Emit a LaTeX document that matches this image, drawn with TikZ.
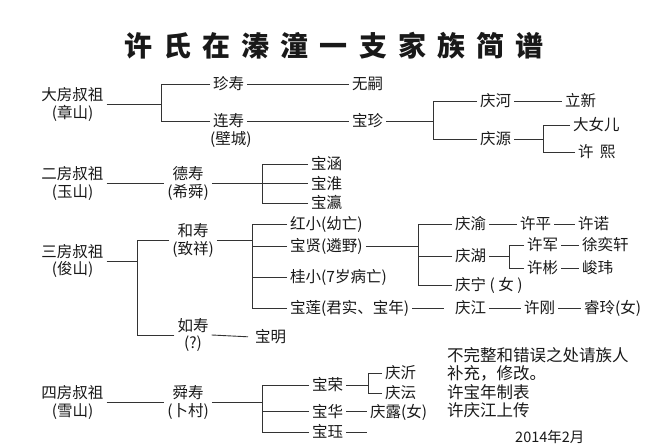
\documentclass[tikz,border=0pt]{standalone}
\usepackage{fontspec}
\setmainfont{Noto Sans CJK SC}
\begin{document}
\begin{tikzpicture}[x=1pt,y=-1pt,
  every node/.style={inner xsep=3pt, inner ysep=0pt, font=\fontsize{15.5}{17.5}\selectfont, text=black!90},
  one/.style={anchor=west, xshift=-3pt, text height=13.5pt, text depth=1.7pt},
  two/.style={align=center},
  note/.style={anchor=west, xshift=-3pt, font=\fontsize{16.5}{18}\selectfont, text height=14.3pt, text depth=1.8pt},
  link/.style={draw=black!80, line width=0.9pt}]
\useasboundingbox[fill=white] (0,0) rectangle (651,446);
% title
\node[font=\fontsize{28}{30}\selectfont\bfseries\addfontfeature{LetterSpace=40}] (title) at (334,46) {许氏在溱潼一支家族简谱};
% generation 0
\node[two] (g1) at (72.5,104.5) {大房叔祖\\(章山)};
\node[two] (g2) at (72.5,183.5) {二房叔祖\\(玉山)};
\node[two] (g3) at (72.5,261) {三房叔祖\\(俊山)};
\node[two] (g4) at (72.5,402.5) {四房叔祖\\(雪山)};
% generation 1
\node[one] (zs) at (213,84) {珍寿};
\node[one] (ls) at (213,121) {连寿};
\node[one] (lsb) at (210,139) {(壁城)};
\node[two] (ds) at (188,183.5) {德寿\\(希舜)};
\node[two] (hs) at (193,240.5) {和寿\\(致祥)};
\node[two] (rs) at (193,335) {如寿\\(?)};
\node[two] (ss) at (188,402.5) {舜寿\\(卜村)};
% generation 2
\node[one] (wusi) at (352,84) {无嗣};
\node[one] (bz) at (352,121) {宝珍};
\node[one] (bh1) at (311,164) {宝涵};
\node[one] (bh2) at (311,183.5) {宝淮};
\node[one] (bh3) at (311,203) {宝瀛};
\node[one] (hx) at (290,224) {红小(幼亡)};
\node[one] (bx) at (290,246) {宝贤(遴野)};
\node[one] (gx) at (290,277) {桂小(7岁病亡)};
\node[one] (bl) at (290,308) {宝莲(君实、宝年)};
\node[one] (bm) at (255,337) {宝明};
\node[one] (br) at (312,385) {宝荣};
\node[one] (bhu) at (312,411.5) {宝华};
\node[one] (bj) at (312,432) {宝珏};
% generation 3
\node[one] (qh) at (480,101) {庆河};
\node[one] (qy) at (480,139) {庆源};
\node[one] (qyu) at (455,224) {庆渝};
\node[one] (qhu) at (455,256) {庆湖};
\node[one] (qn) at (455,285) {庆宁 ( 女 )};
\node[one] (qj) at (455,308) {庆江};
\node[one] (qyi) at (385,373) {庆沂};
\node[one] (qyun) at (385,393) {庆沄};
\node[one] (ql) at (370,411.5) {庆露(女)};
% generation 4 and 5
\node[one] (lx) at (565,101) {立新};
\node[one] (dne) at (573,125) {大女儿};
\node[one] (xx) at (578,152) {许\hspace{0.4em}熙};
\node[one] (xp) at (520,224) {许平};
\node[one] (xn) at (578,224) {许诺};
\node[one] (xj) at (527,245) {许军};
\node[one] (xyx) at (582,245) {徐奕轩};
\node[one] (xb) at (527,268) {许彬};
\node[one] (jw) at (582,268) {峻玮};
\node[one] (xg) at (524,308) {许刚};
\node[one] (rl) at (584,308) {睿玲(女)};
% notes
\node[note] (n1) at (447,355) {不完整和错误之处请族人};
\node[note] (n2) at (447,373) {补充，修改。};
\node[note] (n3) at (447,392) {许宝年制表};
\node[note] (n4) at (447,410) {许庆江上传};
\node[anchor=west, inner xsep=0pt, font=\fontsize{14.5}{16}\selectfont] (date) at (515,437) {2014年2月};
% connectors
\coordinate (f1) at (161,104.5);
\draw[link] (g1.east) -- (f1);
\draw[link] (zs.west) -| (f1);
\draw[link] (ls.west) -| (f1);
\draw[link] (zs.east) -- (wusi.west);
\draw[link] (ls.east) -- (bz.west);
\coordinate (f2) at (433,121);
\draw[link] (bz.east) -- (f2);
\draw[link] (qh.west) -| (f2);
\draw[link] (qy.west) -| (f2);
\draw[link] (qh.east) -- (lx.west);
\coordinate (f3) at (543,139);
\draw[link] (qy.east) -- (f3);
\draw[link] (dne.west) -| (f3);
\draw[link] (xx.west) -| (f3);
\draw[link] (g2.east) -- (ds.west);
\coordinate (f4) at (262,183.5);
\draw[link] (ds.east) -- (bh2.west);
\draw[link] (bh1.west) -| (f4);
\draw[link] (bh3.west) -| (f4);
\coordinate (f5) at (137,261);
\draw[link] (g3.east) -- (f5);
\draw[link] (hs.west) -| (f5);
\draw[link] (rs.west) -| (f5);
\coordinate (f6) at (252,240.5);
\draw[link] (hs.east) -- (f6);
\draw[link] (hx.west) -| (f6);
\draw[link] (bx.west) -| (f6);
\draw[link] (gx.west) -| (f6);
\draw[link] (bl.west) -| (f6);
\coordinate (f7) at (418,246);
\draw[link] (bx.east) -- (f7);
\draw[link] (qyu.west) -| (f7);
\draw[link] (qhu.west) -| (f7);
\draw[link] (qn.west) -| (f7);
\draw[link] (qyu.east) -- (xp.west);
\draw[link] (xp.east) -- (xn.west);
\coordinate (f8) at (509,256);
\draw[link] (qhu.east) -- (f8);
\draw[link] (xj.west) -| (f8);
\draw[link] (xb.west) -| (f8);
\draw[link] (xj.east) -- (xyx.west);
\draw[link] (xb.east) -- (jw.west);
\draw[link, shorten >=8pt] (bl.east) -- (qj.west);
\draw[link] (qj.east) -- (xg.west);
\draw[link] (xg.east) -- (rl.west);
\draw[link, shorten >=4pt] (rs.east) -- (bm.west);
\draw[link] (g4.east) -- (ss.west);
\coordinate (f9) at (262,402.5);
\draw[link] (ss.east) -- (f9);
\draw[link] (br.west) -| (f9);
\draw[link] (bhu.west) -| (f9);
\draw[link] (bj.west) -| (f9);
\coordinate (f10) at (368,385);
\draw[link] (br.east) -- (f10);
\draw[link] (qyi.west) -| (f10);
\draw[link] (qyun.west) -| (f10);
\draw[link] (bhu.east) -- (ql.west);
\coordinate (bjend) at (367,432);
\draw[link] (bj.east) -- (bjend);
\end{tikzpicture}
\end{document}
